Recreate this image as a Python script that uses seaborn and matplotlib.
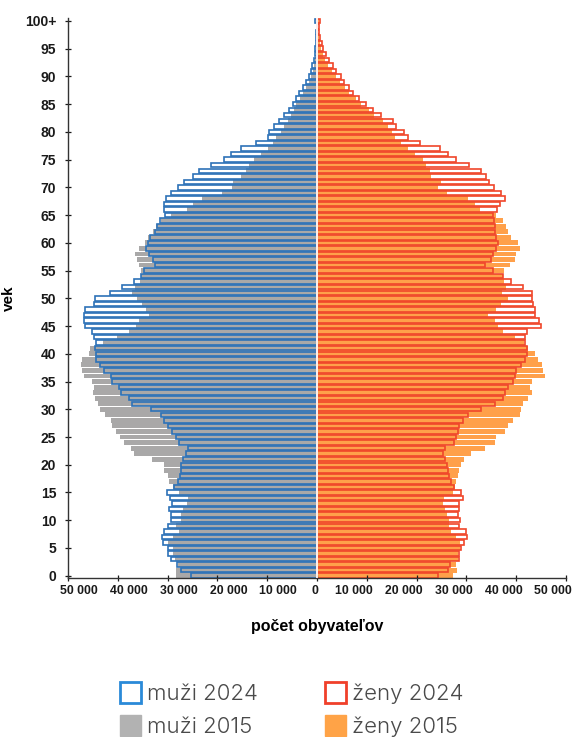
import numpy as np
import pandas as pd
import matplotlib.pyplot as plt
import seaborn as sns
from matplotlib.patches import Patch
from matplotlib.transforms import ScaledTranslation

# vekové skupiny 0..100+ (hodnoty v tisícoch)
vek = list(range(101))

muzi_2024 = [25.4, 27.4, 28.2, 29.3, 30.0, 30.0, 30.9, 31.1, 30.7, 30.0,
             29.3, 29.4, 29.8, 29.1, 29.5, 30.2, 28.7, 27.9, 27.6, 27.4,
             27.4, 27.0, 26.4, 26.0, 27.7, 28.3, 29.2, 30.0, 30.7, 31.4,
             33.4, 37.1, 37.8, 39.4, 39.8, 41.1, 41.4, 42.8, 43.5, 44.3,
             44.4, 44.5, 44.3, 44.8, 45.1, 46.5, 46.7, 46.8, 46.5, 44.8,
             44.6, 41.6, 39.1, 36.8, 35.4, 34.7, 32.6, 32.9, 33.7, 34.4,
             33.9, 33.5, 32.5, 32.1, 31.5, 30.6, 30.8, 30.7, 30.4, 29.4,
             28.0, 26.7, 25.0, 23.7, 21.3, 18.7, 17.3, 15.3, 12.3, 9.9,
             9.6, 8.6, 7.6, 6.6, 5.6, 4.9, 4.3, 3.6, 2.9, 2.3,
             1.7, 1.3, 0.95, 0.7, 0.5, 0.35, 0.25, 0.17, 0.12, 0.08,
             0.4]

muzi_2015 = [28.4, 28.3, 28.0, 28.6, 29.0, 29.0, 30.0, 29.0, 27.7, 28.4,
             27.4, 27.4, 27.0, 26.2, 26.0, 27.7, 29.0, 29.7, 30.0, 30.7,
             30.8, 33.1, 36.8, 37.3, 38.8, 39.6, 40.3, 41.1, 41.4, 42.5,
             43.5, 44.0, 44.5, 45.0, 44.8, 45.2, 46.8, 47.1, 47.3, 47.1,
             45.8, 45.5, 42.9, 40.2, 37.8, 36.4, 35.7, 33.7, 34.4, 35.1,
             36.1, 37.2, 36.6, 35.6, 35.4, 35.4, 35.7, 36.2, 36.6, 35.7,
             34.6, 34.0, 33.0, 32.4, 31.3, 29.4, 26.2, 25.0, 23.0, 19.0,
             17.0, 16.8, 15.3, 14.3, 13.6, 12.7, 11.3, 9.9, 8.9, 8.2,
             7.2, 6.6, 5.9, 5.2, 4.7, 4.2, 3.5, 2.8, 2.2, 1.7,
             1.2, 0.9, 0.65, 0.45, 0.3, 0.2, 0.14, 0.1, 0.06, 0.04,
             0.25]

zeny_2024 = [24.3, 26.3, 26.8, 28.6, 28.6, 29.0, 29.6, 30.2, 30.0, 28.6,
             28.8, 28.3, 28.6, 28.6, 29.3, 29.0, 27.6, 26.9, 26.6, 26.3,
             26.0, 25.6, 25.3, 25.6, 27.6, 28.0, 28.3, 28.6, 29.3, 30.3,
             33.0, 35.7, 37.3, 37.8, 38.4, 39.4, 39.7, 40.0, 41.0, 41.7,
             42.1, 42.1, 41.8, 41.7, 42.1, 44.9, 44.6, 43.8, 43.7, 43.4,
             43.1, 43.1, 41.4, 38.9, 37.3, 35.3, 33.7, 35.0, 35.3, 36.0,
             36.3, 36.0, 35.7, 35.7, 35.6, 35.3, 36.2, 36.7, 37.7, 37.0,
             35.5, 34.5, 34.0, 33.0, 30.5, 28.0, 26.3, 24.6, 20.6, 18.3,
             17.5, 15.9, 15.2, 12.9, 11.2, 9.9, 8.5, 7.2, 6.5, 5.5,
             4.8, 3.8, 3.2, 2.5, 1.8, 1.2, 0.9, 0.65, 0.45, 0.3,
             0.6]

zeny_2015 = [27.4, 28.2, 28.0, 28.4, 28.4, 28.8, 28.8, 28.0, 27.0, 26.6,
             26.5, 26.2, 25.6, 25.3, 25.4, 27.4, 27.8, 27.9, 28.3, 28.6,
             29.0, 29.6, 31.0, 33.7, 35.7, 36.0, 37.7, 38.4, 39.4, 40.7,
             41.0, 41.4, 42.4, 43.1, 42.7, 43.1, 45.7, 45.4, 45.1, 44.4,
             43.7, 42.4, 41.5, 39.7, 37.3, 36.3, 35.7, 34.3, 36.0, 37.0,
             38.4, 37.2, 38.0, 37.5, 37.3, 37.5, 38.7, 39.7, 40.0, 40.7,
             40.4, 39.0, 38.4, 38.0, 37.3, 36.0, 32.7, 31.7, 30.3, 26.2,
             24.3, 24.9, 22.9, 22.6, 21.9, 21.3, 19.6, 18.2, 16.9, 15.6,
             15.0, 14.2, 13.2, 11.5, 10.5, 8.9, 7.8, 6.5, 5.6, 4.6,
             3.8, 3.0, 2.3, 1.7, 1.2, 0.85, 0.6, 0.4, 0.28, 0.18,
             0.4]

dados = pd.DataFrame({
    'vek': vek,
    'muzi_2024': -np.array(muzi_2024) * 1000,
    'muzi_2015': -np.array(muzi_2015) * 1000,
    'zeny_2024': np.array(zeny_2024) * 1000,
    'zeny_2015': np.array(zeny_2015) * 1000,
})

siva = '#a9a8a8'
oranzova = '#ffa04a'
modra = '#2d72b8'
cervena = '#f0462a'

fig = plt.figure(figsize=(5.74, 7.37), dpi=100)
ax = fig.add_axes([0.1185, 0.2155, 0.8676, 0.7598])

# 2015 - plné stĺpce
for col, c in [('muzi_2015', siva), ('zeny_2015', oranzova)]:
    sns.barplot(data=dados, x=col, y='vek', orient='y', native_scale=True,
                color=c, saturation=1, width=0.88, linewidth=0,
                errorbar=None, ax=ax)

# 2024 - len obrys
for col, c in [('muzi_2024', modra), ('zeny_2024', cervena)]:
    sns.barplot(data=dados, x=col, y='vek', orient='y', native_scale=True,
                color=c, saturation=1, width=0.8, fill=False, linewidth=1.2,
                errorbar=None, ax=ax)

ax.axvline(0, color='white', lw=1.3, zorder=5)

ax.set_xlim(-50000, 50000)
ax.set_ylim(-0.45, 100.5)

xt = list(range(-50000, 50001, 10000))
ax.set_xticks(xt)
ax.set_xticklabels([f'{abs(v):,}'.replace(',', ' ') for v in xt],
                   fontfamily='Liberation Sans', fontweight='bold', fontsize=8.8)
yt = list(range(0, 101, 5))
ax.set_yticks(yt)
ax.set_yticklabels([str(v) if v < 100 else '100+' for v in yt],
                   fontfamily='Liberation Sans', fontweight='bold', fontsize=10)

ax.tick_params(axis='both', direction='inout', length=4, width=0.9, colors='#1a1a1a')
ax.tick_params(axis='x', pad=3)
ax.tick_params(axis='y', pad=6.5)

# popisky osi x sú v predlohe posunuté k stredu
posun = {-50000: 11, -40000: 11, -30000: 11, -20000: 11, -10000: 11, 0: -2,
         10000: -13, 20000: -13, 30000: -13, 40000: -12, 50000: -13}
for lab, v in zip(ax.get_xticklabels(), xt):
    lab.set_transform(lab.get_transform() + ScaledTranslation(posun[v] / 100, 0, fig.dpi_scale_trans))

for s in ['top', 'right']:
    ax.spines[s].set_visible(False)
for s in ['left', 'bottom']:
    ax.spines[s].set_color('#333333')
    ax.spines[s].set_linewidth(1.0)

ax.set_ylabel('vek', fontfamily='Liberation Sans', fontweight='bold', fontsize=11, labelpad=6)
ax.set_xlabel('počet obyvateľov', fontfamily='Liberation Sans', fontweight='bold', fontsize=11.5, labelpad=16)

handles = [
    Patch(facecolor='white', edgecolor='#2a8ad8', linewidth=2.0, label='muži 2024'),
    Patch(facecolor='#b2b2b2', edgecolor='#b2b2b2', linewidth=1.0, label='muži 2015'),
    Patch(facecolor='white', edgecolor='#f0402a', linewidth=2.0, label='ženy 2024'),
    Patch(facecolor='#ffa347', edgecolor='#ffa347', linewidth=1.0, label='ženy 2015'),
]
fig.legend(handles=handles, ncol=2, loc='upper left', bbox_to_anchor=(0.209, 0.0746),
           frameon=False, borderpad=0, borderaxespad=0, handlelength=0.95, handleheight=1.08,
           handletextpad=0.28, columnspacing=3.0, labelspacing=0.5,
           prop={'family': 'Inter', 'weight': 300, 'size': 16}, labelcolor='#4a4a4a')

plt.savefig('out.png', dpi=100)
plt.close()
